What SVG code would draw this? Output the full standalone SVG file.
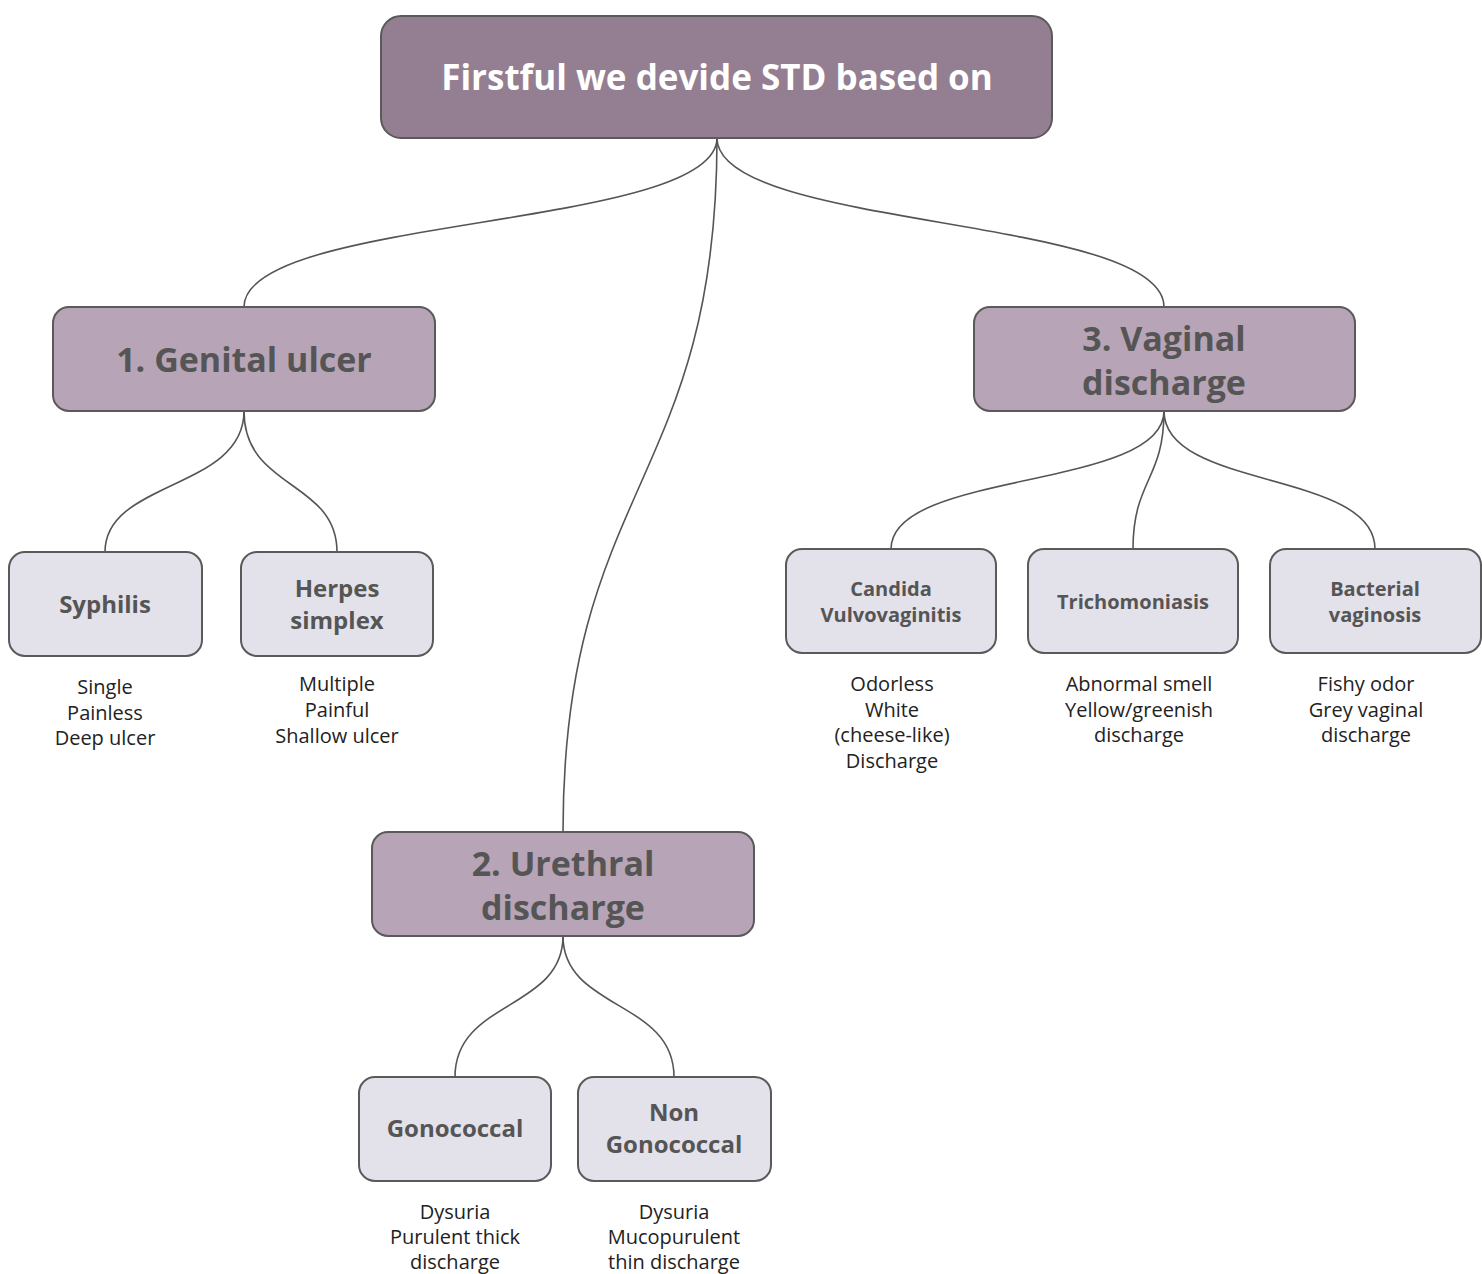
<svg xmlns="http://www.w3.org/2000/svg" width="1482" height="1274" viewBox="0 0 1482 1274">
<style>
.root{fill:#947f92;stroke:#5a5a5a;stroke-width:2}
.main{fill:#b7a4b7;stroke:#5a5a5a;stroke-width:2}
.leaf{fill:#e3e1ea;stroke:#5a5a5a;stroke-width:2}
.t{font-family:"Open Sans","Liberation Sans",sans-serif;text-anchor:middle}
.tr{font-weight:700;font-size:35px;fill:#ffffff}
.tm{font-weight:700;font-size:34px;fill:#555555}
.tl{font-weight:700;font-size:24px;fill:#555555}
.ts{font-weight:700;font-size:20px;fill:#555555}
.d{font-size:20px;fill:#222222}
.c{fill:none;stroke:#555555;stroke-width:1.6}
</style>
<rect width="1482" height="1274" fill="#ffffff"/>
<g id="connectors">
<path class="c" d="M717 138 C717 230 244 215 244 307"/>
<path class="c" d="M717 138 C717 485 563 485 563 832"/>
<path class="c" d="M717 138 C717 230 1164 215 1164 307"/>
<path class="c" d="M244 411 C244 490 105 480 105 552"/>
<path class="c" d="M244 411 C244 490 337 480 337 552"/>
<path class="c" d="M1164 411 C1164 490 891 470 891 549"/>
<path class="c" d="M1164 411 C1164 480 1133 480 1133 549"/>
<path class="c" d="M1164 411 C1164 490 1375 470 1375 549"/>
<path class="c" d="M563 936 C563 1010 455 1000 455 1077"/>
<path class="c" d="M563 936 C563 1010 674 1000 674 1077"/>
</g>
<g id="root">
<rect class="root" x="381" y="16" width="671" height="122" rx="20"/>
<text class="t tr" x="717" y="90">Firstful we devide STD based on</text>
</g>
<g id="genital-ulcer">
<rect class="main" x="53" y="307" width="382" height="104" rx="16"/>
<text class="t tm" x="244" y="372">1. Genital ulcer</text>
</g>
<g id="vaginal-discharge">
<rect class="main" x="974" y="307" width="381" height="104" rx="16"/>
<text class="t tm" x="1164" y="351">3. Vaginal</text>
<text class="t tm" x="1164" y="395">discharge</text>
</g>
<g id="urethral-discharge">
<rect class="main" x="372" y="832" width="382" height="104" rx="16"/>
<text class="t tm" x="563" y="876">2. Urethral</text>
<text class="t tm" x="563" y="920">discharge</text>
</g>
<g id="syphilis">
<rect class="leaf" x="9" y="552" width="193" height="104" rx="16"/>
<text class="t tl" x="105" y="613">Syphilis</text>
<text class="t d" x="105" y="694">Single</text>
<text class="t d" x="105" y="720">Painless</text>
<text class="t d" x="105" y="745">Deep ulcer</text>
</g>
<g id="herpes">
<rect class="leaf" x="241" y="552" width="192" height="104" rx="16"/>
<text class="t tl" x="337" y="597">Herpes</text>
<text class="t tl" x="337" y="629">simplex</text>
<text class="t d" x="337" y="691">Multiple</text>
<text class="t d" x="337" y="717">Painful</text>
<text class="t d" x="337" y="743">Shallow ulcer</text>
</g>
<g id="candida">
<rect class="leaf" x="786" y="549" width="210" height="104" rx="16"/>
<text class="t ts" x="891" y="596">Candida</text>
<text class="t ts" x="891" y="622">Vulvovaginitis</text>
<text class="t d" x="892" y="691">Odorless</text>
<text class="t d" x="892" y="717">White</text>
<text class="t d" x="892" y="742">(cheese-like)</text>
<text class="t d" x="892" y="768">Discharge</text>
</g>
<g id="trichomoniasis">
<rect class="leaf" x="1028" y="549" width="210" height="104" rx="16"/>
<text class="t ts" x="1133" y="609">Trichomoniasis</text>
<text class="t d" x="1139" y="691">Abnormal smell</text>
<text class="t d" x="1139" y="717">Yellow/greenish</text>
<text class="t d" x="1139" y="742">discharge</text>
</g>
<g id="bacterial-vaginosis">
<rect class="leaf" x="1270" y="549" width="211" height="104" rx="16"/>
<text class="t ts" x="1375" y="596">Bacterial</text>
<text class="t ts" x="1375" y="622">vaginosis</text>
<text class="t d" x="1366" y="691">Fishy odor</text>
<text class="t d" x="1366" y="717">Grey vaginal</text>
<text class="t d" x="1366" y="742">discharge</text>
</g>
<g id="gonococcal">
<rect class="leaf" x="359" y="1077" width="192" height="104" rx="16"/>
<text class="t tl" x="455" y="1137">Gonococcal</text>
<text class="t d" x="455" y="1219">Dysuria</text>
<text class="t d" x="455" y="1244">Purulent thick</text>
<text class="t d" x="455" y="1269">discharge</text>
</g>
<g id="non-gonococcal">
<rect class="leaf" x="578" y="1077" width="193" height="104" rx="16"/>
<text class="t tl" x="674" y="1121">Non</text>
<text class="t tl" x="674" y="1153">Gonococcal</text>
<text class="t d" x="674" y="1219">Dysuria</text>
<text class="t d" x="674" y="1244">Mucopurulent</text>
<text class="t d" x="674" y="1269">thin discharge</text>
</g>
</svg>
